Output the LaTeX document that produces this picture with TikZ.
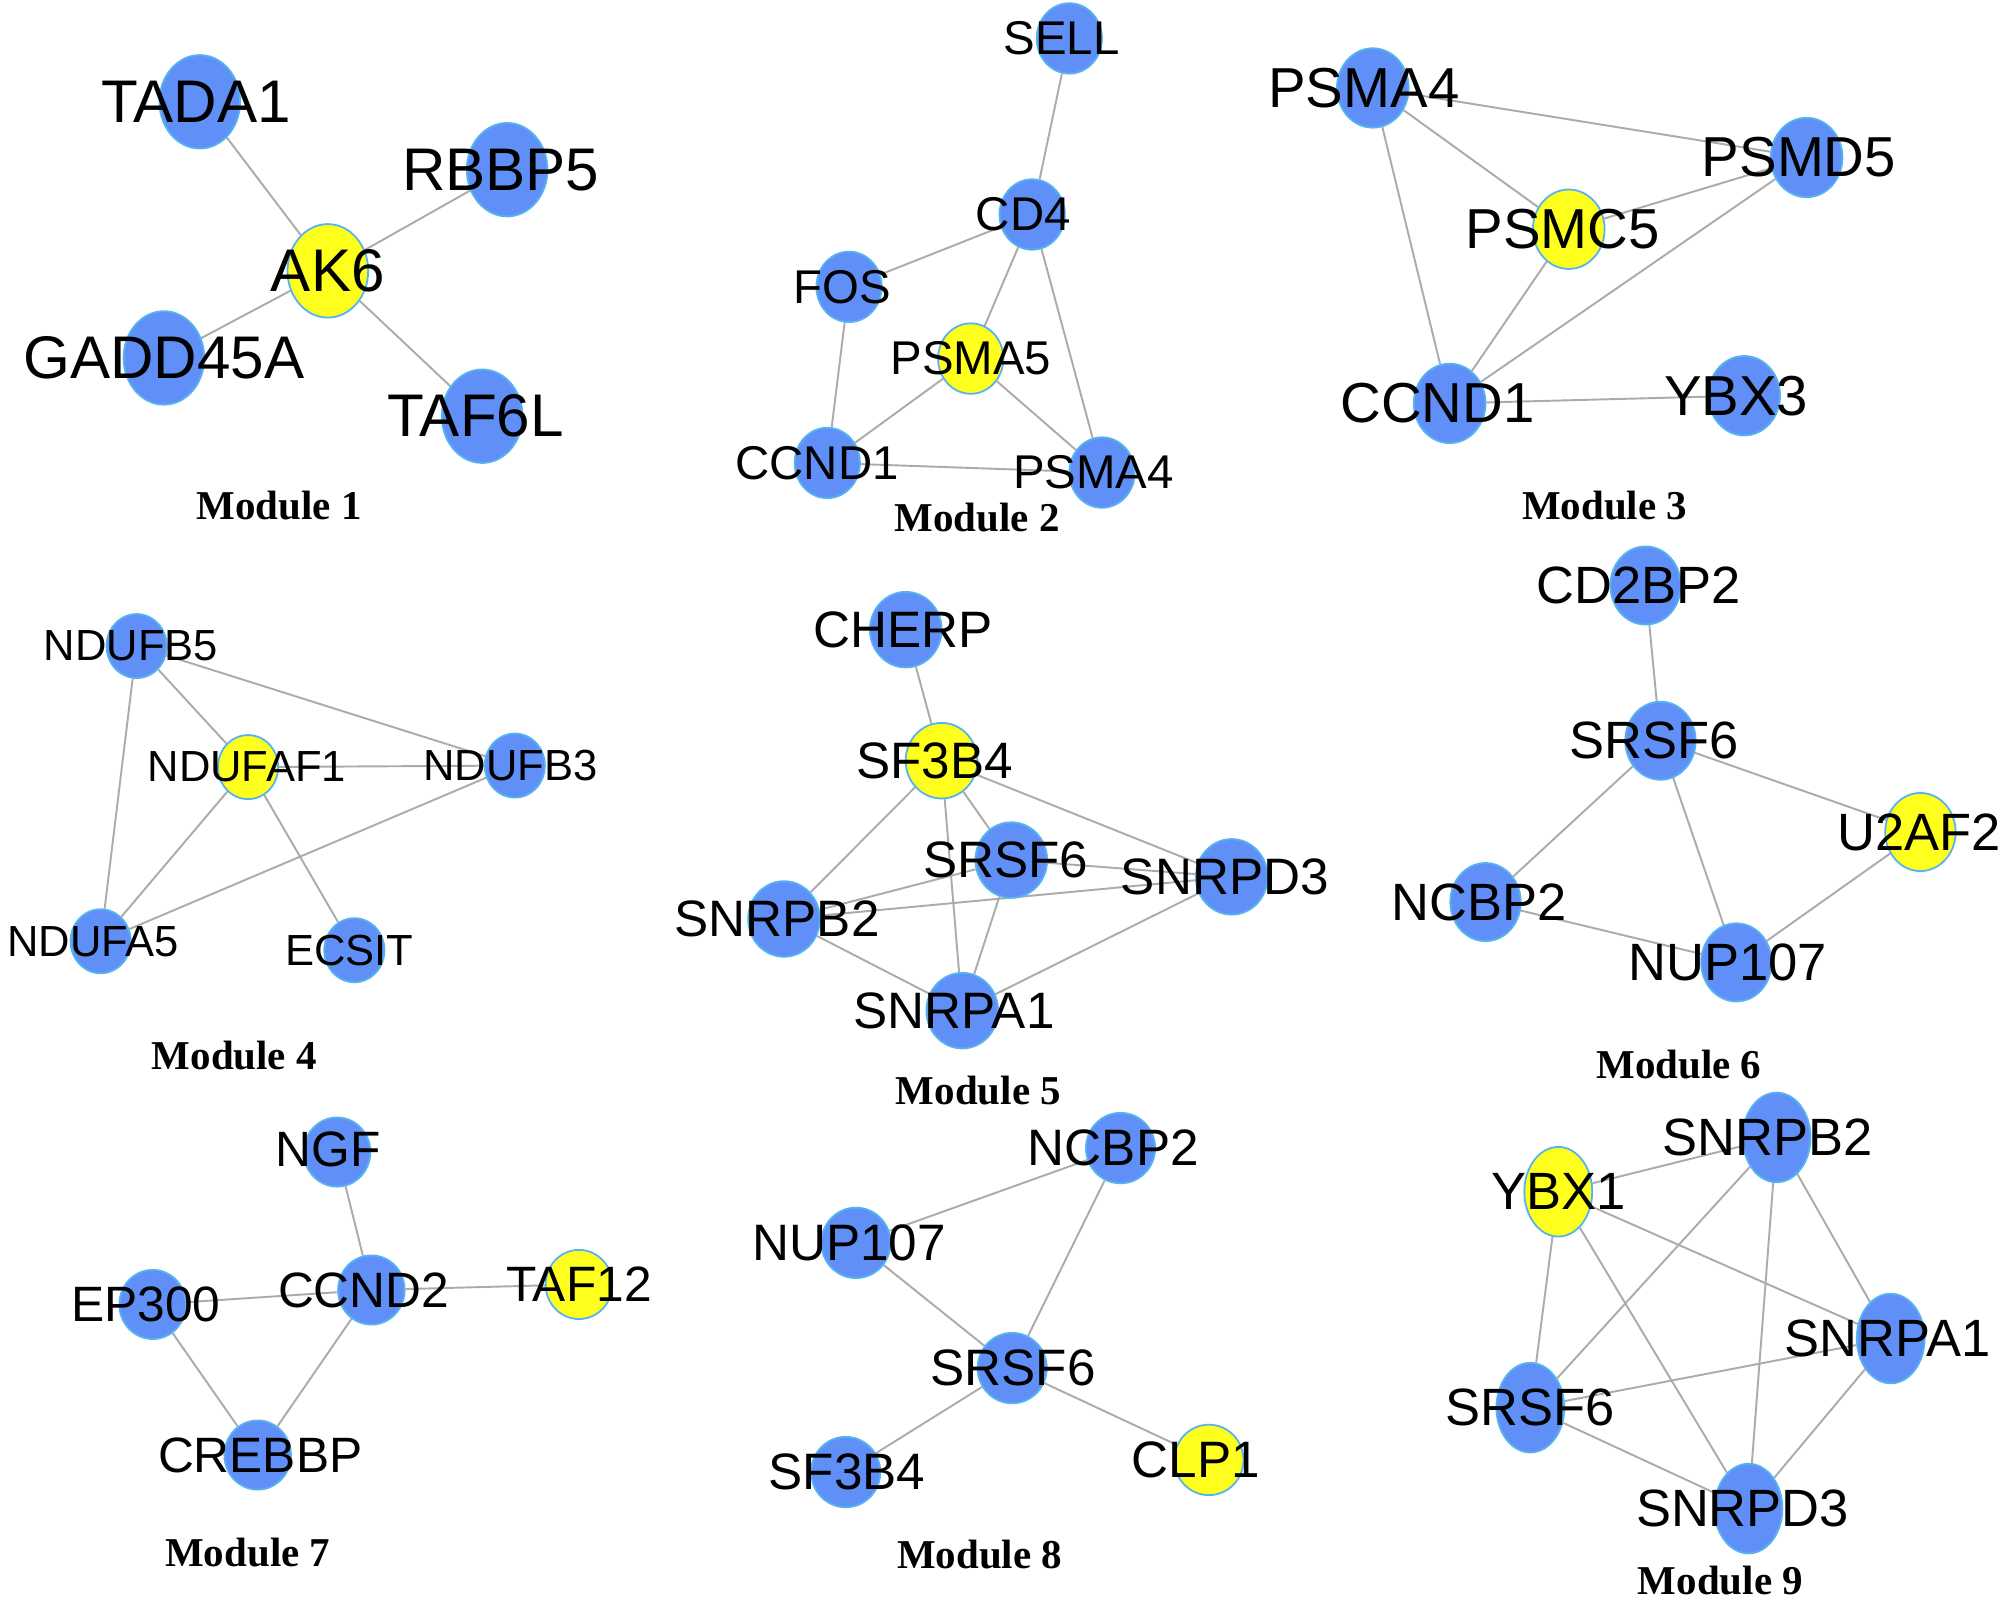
\documentclass[tikz,border=0pt]{standalone}
\usepackage{fontspec}
\setmainfont{Liberation Serif}
\setsansfont{Liberation Sans}
\usetikzlibrary{shapes.geometric,backgrounds}
\definecolor{nodeblue}{HTML}{5F8FF7}
\definecolor{nodeline}{HTML}{55B4F0}
\definecolor{nodeyellow}{HTML}{FFFF1E}
\definecolor{edgegray}{HTML}{ABABAB}
\tikzset{
  gene/.style={ellipse, fill=nodeblue, draw=nodeline, line width=0.7pt, inner sep=0pt},
  hub/.style={gene, fill=nodeyellow},
  link/.style={draw=edgegray, line width=0.75pt},
  modlab/.style={font=\rmfamily\bfseries\fontsize{16}{18}\selectfont, inner sep=0pt},
  s1/.style={minimum width=31.5pt, minimum height=36.5pt},
  s2/.style={minimum width=25.5pt, minimum height=27.5pt},
  s3/.style={minimum width=28pt, minimum height=31pt},
  s4/.style={minimum width=23.5pt, minimum height=25pt},
  s5/.style={minimum width=28pt, minimum height=29.5pt},
  s6/.style={minimum width=27.5pt, minimum height=30.5pt},
  s7/.style={minimum width=26pt, minimum height=27pt},
  s8/.style={minimum width=27pt, minimum height=27.5pt},
  s9/.style={minimum width=26.5pt, minimum height=35pt},
  l1/.style={font=\sffamily\fontsize{23.5}{24}\selectfont, inner sep=0pt},
  l2/.style={font=\sffamily\fontsize{18.5}{19}\selectfont, inner sep=0pt},
  l3/.style={font=\sffamily\fontsize{22}{23}\selectfont, inner sep=0pt},
  l4/.style={font=\sffamily\fontsize{17}{18}\selectfont, inner sep=0pt},
  l5/.style={font=\sffamily\fontsize{20}{21}\selectfont, inner sep=0pt},
  l6/.style={font=\sffamily\fontsize{20.5}{21}\selectfont, inner sep=0pt},
  l7/.style={font=\sffamily\fontsize{19.4}{20}\selectfont, inner sep=0pt},
  l8/.style={font=\sffamily\fontsize{20}{21}\selectfont, inner sep=0pt},
  l9/.style={font=\sffamily\fontsize{20.5}{21}\selectfont, inner sep=0pt},
}
\begin{document}
\begin{tikzpicture}[x=0.5pt,y=-0.5pt]
\useasboundingbox (0,0) rectangle (1568,1252);

% ---------- Module 1
\node[gene,s1,label={[l1,xshift=-1.5pt]center:TADA1}] (a1) at (156,79.5) {};
\node[gene,s1,label={[l1,xshift=-2.5pt]center:RBBP5}] (a2) at (396,132.5) {};
\node[hub,s1,label={[l1]center:AK6}] (a3) at (256,211.5) {};
\node[gene,s1,label={[l1]center:GADD45A}] (a4) at (128,279.5) {};
\node[gene,s1,label={[l1,xshift=-2.5pt]center:TAF6L}] (a5) at (376.5,325) {};
\node[modlab] (ml1) at (218,394.5) {Module 1};

% ---------- Module 2
\node[gene,s2,label={[l2,xshift=-3pt]center:SELL}] (b1) at (835,30) {};
\node[gene,s2,label={[l2,xshift=-3.5pt]center:CD4}] (b2) at (806,167.5) {};
\node[gene,s2,label={[l2,xshift=-2.5pt]center:FOS}] (b3) at (663,224) {};
\node[hub,s2,label={[l2]center:PSMA5}] (b4) at (758,280) {};
\node[gene,s2,label={[l2,xshift=-4pt]center:CCND1}] (b5) at (646,361.5) {};
\node[gene,s2,label={[l2,xshift=-3.3pt]center:PSMA4}] (b6) at (860.5,369) {};
\node[modlab] (ml2) at (763,404) {Module 2};

% ---------- Module 3
\node[gene,s3,label={[l3,xshift=-3.5pt]center:PSMA4}] (c1) at (1072,68.7) {};
\node[gene,s3,label={[l3,xshift=-3pt]center:PSMD5}] (c2) at (1410.7,123) {};
\node[hub,s3,label={[l3,xshift=-2.3pt]center:PSMC5}] (c3) at (1225,179) {};
\node[gene,s3,label={[l3,xshift=-4.7pt]center:CCND1}] (c4) at (1132,315) {};
\node[gene,s3,label={[l3,xshift=-3.1pt]center:YBX3}] (c5) at (1362,309) {};
\node[modlab] (ml3) at (1253,394.5) {Module 3};

% ---------- Module 4
\node[gene,s4,label={[l4,xshift=-2.2pt]center:NDUFB5}] (d1) at (106.7,504.5) {};
\node[hub,s4,label={[l4,xshift=-0.5pt]center:NDUFAF1}] (d2) at (193.7,599) {};
\node[gene,s4,label={[l4,xshift=-1.7pt]center:NDUFB3}] (d3) at (402,597.8) {};
\node[gene,s4,label={[l4,xshift=-2.9pt]center:NDUFA5}] (d4) at (78.6,735) {};
\node[gene,s4,label={[l4,xshift=-2pt]center:ECSIT}] (d5) at (276.7,742) {};
\node[modlab] (ml4) at (183,824.6) {Module 4};

% ---------- Module 5
\node[gene,s5,label={[l5,xshift=-1.2pt]center:CHERP}] (e1) at (707.3,491.7) {};
\node[hub,s5,label={[l5,xshift=-2.7pt]center:SF3B4}] (e2) at (735.2,594) {};
\node[gene,s5,label={[l5,xshift=-2.2pt]center:SRSF6}] (e3) at (789.7,671.6) {};
\node[gene,s5,label={[l5,xshift=-2.7pt]center:SNRPD3}] (e4) at (961.8,684.7) {};
\node[gene,s5,label={[l5,xshift=-2.7pt]center:SNRPB2}] (e5) at (612.2,717.6) {};
\node[gene,s5,label={[l5,xshift=-3.2pt]center:SNRPA1}] (e6) at (751.4,789.2) {};
\node[modlab] (ml5) at (764,851.5) {Module 5};

% ---------- Module 6
\node[gene,s6,label={[l6,xshift=-2.8pt]center:CD2BP2}] (f1) at (1285,457.2) {};
\node[gene,s6,label={[l6,xshift=-2.5pt]center:SRSF6}] (f2) at (1296.6,578.4) {};
\node[hub,s6,label={[l6,xshift=-0.5pt]center:U2AF2}] (f3) at (1499.6,649.7) {};
\node[gene,s6,label={[l6,xshift=-2.5pt]center:NCBP2}] (f4) at (1160,704.4) {};
\node[gene,s6,label={[l6,xshift=-3.3pt]center:NUP107}] (f5) at (1355.9,751.5) {};
\node[modlab] (ml6) at (1311,831) {Module 6};

% ---------- Module 7
\node[gene,s7,label={[l7,xshift=-3.5pt,yshift=0.9pt]center:NGF}] (g1) at (263.2,899.6) {};
\node[gene,s7,label={[l7,xshift=-3pt]center:CCND2}] (g2) at (290,1007.3) {};
\node[hub,s7,label={[l7]center:TAF12}] (g3) at (452.1,1003) {};
\node[gene,s7,label={[l7,xshift=-2.6pt]center:EP300}] (g4) at (119.2,1018.6) {};
\node[gene,s7,label={[l7,xshift=1pt]center:CREBBP}] (g5) at (201.2,1136.2) {};
\node[modlab] (ml7) at (193.5,1212.3) {Module 7};

% ---------- Module 8
\node[gene,s8,label={[l8,xshift=-2.8pt]center:NCBP2}] (h1) at (875,896.5) {};
\node[gene,s8,label={[l8,xshift=-2.7pt]center:NUP107}] (h2) at (668.4,970.5) {};
\node[gene,s8,label={[l8,xshift=0.3pt]center:SRSF6}] (h3) at (790.4,1068.3) {};
\node[gene,s8,label={[l8,xshift=0.5pt]center:SF3B4}] (h4) at (660.4,1149.5) {};
\node[hub,s8,label={[l8,xshift=-5.1pt]center:CLP1}] (h5) at (944,1140) {};
\node[modlab] (ml8) at (765,1213.5) {Module 8};

% ---------- Module 9
\node[hub,s9,label={[l9]center:YBX1}] (i1) at (1216.8,930.6) {};
\node[gene,s9,label={[l9,xshift=-3.6pt]center:SNRPB2}] (i2) at (1387.3,888.2) {};
\node[gene,s9,label={[l9,xshift=-1.2pt]center:SNRPA1}] (i3) at (1476.4,1045.2) {};
\node[gene,s9,label={[l9]center:SRSF6}] (i4) at (1195,1099.2) {};
\node[gene,s9,label={[l9,xshift=-2.3pt]center:SNRPD3}] (i5) at (1365.3,1178) {};
\node[modlab] (ml9) at (1343.5,1234) {Module 9};

\begin{pgfonlayer}{background}
\fill[white] (0,0) rectangle (1568,1252);
% Module 1
\draw[link] (a3) -- (a1);
\draw[link] (a3) -- (a2);
\draw[link] (a3) -- (a4);
\draw[link] (a3) -- (a5);
% Module 2
\draw[link] (b1) -- (b2);
\draw[link] (b2) -- (b3);
\draw[link] (b2) -- (b4);
\draw[link] (b2) -- (b6);
\draw[link] (b3) -- (b5);
\draw[link] (b4) -- (b5);
\draw[link] (b4) -- (b6);
\draw[link] (b5) -- (b6);
% Module 3
\draw[link] (c1) -- (c2);
\draw[link] (c1) -- (c3);
\draw[link] (c1) -- (c4);
\draw[link] (c3) -- (c2);
\draw[link] (c3) -- (c4);
\draw[link] (c2) -- (c4);
\draw[link] (c4) -- (c5);
% Module 4
\draw[link] (d1) -- (d3);
\draw[link] (d1) -- (d2);
\draw[link] (d1) -- (d4);
\draw[link] (d2) -- (d3);
\draw[link] (d2) -- (d4);
\draw[link] (d2) -- (d5);
\draw[link] (d3) -- (d4);
% Module 5
\draw[link] (e1) -- (e2);
\draw[link] (e2) -- (e3);
\draw[link] (e2) -- (e4);
\draw[link] (e2) -- (e5);
\draw[link] (e2) -- (e6);
\draw[link] (e3) -- (e4);
\draw[link] (e3) -- (e5);
\draw[link] (e3) -- (e6);
\draw[link] (e5) -- (e4);
\draw[link] (e5) -- (e6);
\draw[link] (e6) -- (e4);
% Module 6
\draw[link] (f1) -- (f2);
\draw[link] (f2) -- (f3);
\draw[link] (f2) -- (f4);
\draw[link] (f2) -- (f5);
\draw[link] (f4) -- (f5);
\draw[link] (f3) -- (f5);
% Module 7
\draw[link] (g1) -- (g2);
\draw[link] (g4) -- (g2);
\draw[link] (g2) -- (g3);
\draw[link] (g4) -- (g5);
\draw[link] (g2) -- (g5);
% Module 8
\draw[link] (h1) -- (h2);
\draw[link] (h1) -- (h3);
\draw[link] (h2) -- (h3);
\draw[link] (h3) -- (h4);
\draw[link] (h3) -- (h5);
% Module 9
\draw[link] (i1) -- (i2);
\draw[link] (i1) -- (i3);
\draw[link] (i1) -- (i4);
\draw[link] (i1) -- (i5);
\draw[link] (i2) -- (i4);
\draw[link] (i2) -- (i5);
\draw[link] (i2) -- (i3);
\draw[link] (i3) -- (i4);
\draw[link] (i3) -- (i5);
\draw[link] (i4) -- (i5);
\end{pgfonlayer}
\end{tikzpicture}
\end{document}
